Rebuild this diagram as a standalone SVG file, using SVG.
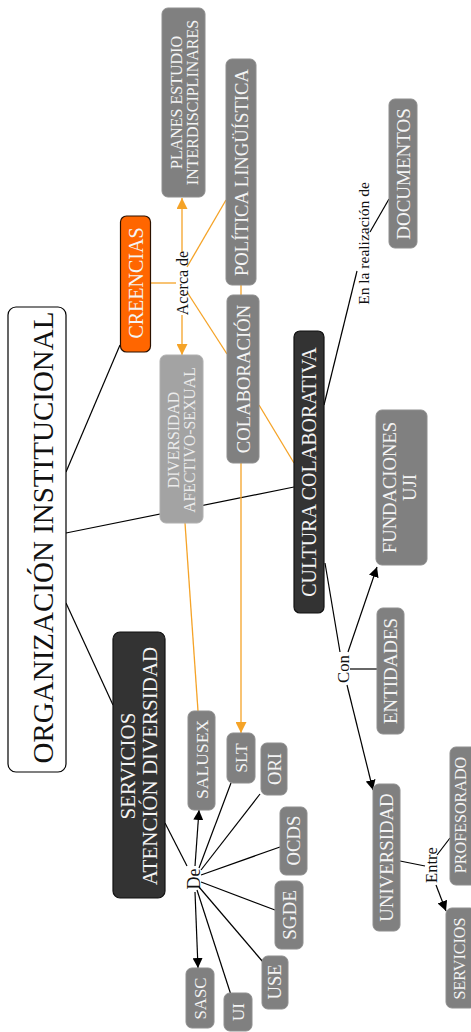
<svg xmlns="http://www.w3.org/2000/svg" width="471" height="1032" viewBox="0 0 471 1032">
<style>
text{font-family:"Liberation Serif","DejaVu Serif",serif;text-anchor:middle;dominant-baseline:central}
.g{fill:#808080;stroke:#8e8e8e;stroke-width:1}
.lg{fill:#a3a3a3;stroke:#b0b0b0;stroke-width:1}
.d{fill:#333333;stroke:#111111;stroke-width:1.2}
.t{fill:#f4f4f4}
.tl{fill:#ececec}
.k{fill:#111111}
.c line{stroke:#000;stroke-width:1.2;fill:none}
.c line.o{stroke:#F5A327;stroke-width:1.3}
</style>
<defs>
<marker id="ab" viewBox="0 0 10 10" refX="10" refY="5" markerWidth="10" markerHeight="10" markerUnits="userSpaceOnUse" orient="auto"><path d="M0,0 L10,5 L0,10 z" fill="#000"/></marker>
<marker id="ao" viewBox="0 0 10 10" refX="10" refY="5" markerWidth="11" markerHeight="11" markerUnits="userSpaceOnUse" orient="auto"><path d="M0,0 L10,5 L0,10 z" fill="#F5A327"/></marker>
</defs>
<rect width="471" height="1032" fill="#fff"/>
<g id="connectors" class="c">
<line x1="66" y1="472" x2="120" y2="345"/>
<line x1="66" y1="533" x2="294" y2="487"/>
<line x1="66" y1="603" x2="113" y2="705"/>
<line x1="165" y1="823" x2="187" y2="866"/>
<line x1="195" y1="866" x2="199" y2="810" marker-end="url(#ab)"/>
<line x1="199" y1="868" x2="231" y2="783"/>
<line x1="201" y1="870" x2="260" y2="794"/>
<line x1="201" y1="875" x2="280" y2="847"/>
<line x1="201" y1="882" x2="275" y2="910"/>
<line x1="199" y1="887" x2="263" y2="962"/>
<line x1="197" y1="890" x2="231" y2="995"/>
<line x1="195" y1="892" x2="198" y2="968" marker-end="url(#ab)"/>
<line x1="324" y1="405" x2="357" y2="271"/>
<line x1="370" y1="232" x2="389" y2="199"/>
<line x1="325" y1="563" x2="340" y2="652"/>
<line x1="348" y1="652" x2="377" y2="567" marker-end="url(#ab)"/>
<line x1="350" y1="669" x2="377" y2="669"/>
<line x1="347" y1="685" x2="373" y2="790" marker-end="url(#ab)"/>
<line x1="400" y1="861" x2="425" y2="866"/>
<line x1="437" y1="855" x2="450" y2="838"/>
<line x1="436" y1="885" x2="446" y2="911" marker-end="url(#ab)"/>
<line class="o" x1="151" y1="283" x2="176" y2="283"/>
<line class="o" x1="182" y1="253" x2="182" y2="198" marker-end="url(#ao)"/>
<line class="o" x1="182" y1="315" x2="182" y2="355" marker-end="url(#ao)"/>
<line class="o" x1="187" y1="267" x2="226" y2="200"/>
<line class="o" x1="187" y1="292" x2="227" y2="354"/>
<line class="o" x1="241" y1="285" x2="241" y2="295"/>
<line class="o" x1="259" y1="405" x2="294" y2="463"/>
<line class="o" x1="241" y1="463" x2="241" y2="733" marker-end="url(#ao)"/>
<line class="o" x1="185" y1="523" x2="198" y2="711"/>
</g>
<g id="organizacion"><rect x="8" y="307" width="58" height="465" rx="8" fill="#fff" stroke="#000" stroke-width="1.2"/><text class="k" transform="translate(42.5,537.5) rotate(-90)" font-size="29">ORGANIZACIÓN INSTITUCIONAL</text></g>
<g id="creencias"><rect x="120.5" y="216" width="30" height="136" rx="6" fill="#FF6600" stroke="#2b1100" stroke-width="1.2"/><text class="t" transform="translate(135.5,283) rotate(-90)" font-size="20">CREENCIAS</text></g>
<g id="planes"><rect class="g" x="162" y="8" width="43" height="189" rx="6"/><text class="t" transform="translate(183.5,102.5) rotate(-90)" font-size="16"><tspan x="0" dy="-8">PLANES ESTUDIO</tspan><tspan x="0" dy="16">INTERDISCIPLINARES</tspan></text></g>
<g id="politica"><rect class="g" x="226" y="59" width="30" height="226" rx="6"/><text class="t" transform="translate(241,172.5) rotate(-90)" font-size="18.7">POLÍTICA LINGÜÍSTICA</text></g>
<g id="documentos"><rect class="g" x="389" y="99" width="28" height="149" rx="6"/><text class="t" transform="translate(403,174) rotate(-90)" font-size="19">DOCUMENTOS</text></g>
<g id="diversidad"><rect class="lg" x="160" y="355" width="43" height="168" rx="6"/><text class="tl" transform="translate(181,440) rotate(-90)" font-size="15.8"><tspan x="0" dy="-8">DIVERSIDAD</tspan><tspan x="0" dy="16">AFECTIVO-SEXUAL</tspan></text></g>
<g id="colaboracion"><rect class="g" x="227" y="295" width="32" height="168" rx="6"/><text class="t" transform="translate(243,379) rotate(-90)" font-size="18.7">COLABORACIÓN</text></g>
<g id="cultura"><rect class="d" x="294" y="331" width="30" height="282" rx="6"/><text class="t" transform="translate(309,472) rotate(-90)" font-size="20">CULTURA COLABORATIVA</text></g>
<g id="fundaciones"><rect class="g" x="376" y="410" width="51" height="155" rx="6"/><text class="t" transform="translate(399,487.5) rotate(-90)" font-size="18.6"><tspan x="0" dy="-10">FUNDACIONES</tspan><tspan x="0" dy="20">UJI</tspan></text></g>
<g id="entidades"><rect class="g" x="377" y="608" width="27" height="126" rx="6"/><text class="t" transform="translate(390.5,671) rotate(-90)" font-size="18.9">ENTIDADES</text></g>
<g id="universidad"><rect class="g" x="373" y="784" width="27" height="147" rx="6"/><text class="t" transform="translate(386.5,857.5) rotate(-90)" font-size="18.8">UNIVERSIDAD</text></g>
<g id="profesorado"><rect class="g" x="450" y="747" width="28" height="138" rx="6"/><text class="t" transform="translate(460,815) rotate(-90)" font-size="16.1">PROFESORADO</text></g>
<g id="servicios2"><rect class="g" x="446" y="908" width="30" height="100" rx="6"/><text class="t" transform="translate(459,958.5) rotate(-90)" font-size="16.1">SERVICIOS</text></g>
<g id="servicios"><rect class="d" x="113" y="632" width="52" height="266" rx="7"/><text class="t" transform="translate(139,766) rotate(-90)" font-size="21"><tspan x="0" dy="-11">SERVICIOS</tspan><tspan x="0" dy="22">ATENCIÓN DIVERSIDAD</tspan></text></g>
<g id="salusex"><rect class="g" x="188" y="711" width="27" height="99" rx="6"/><text class="t" transform="translate(201.5,759.5) rotate(-90)" font-size="17.6">SALUSEX</text></g>
<g id="slt"><rect class="g" x="227" y="733" width="28" height="50" rx="6"/><text class="t" transform="translate(241,758) rotate(-90)" font-size="17.5">SLT</text></g>
<g id="ori"><rect class="g" x="261" y="743" width="26" height="52" rx="6"/><text class="t" transform="translate(274,769) rotate(-90)" font-size="18.6">ORI</text></g>
<g id="ocds"><rect class="g" x="280" y="807" width="27" height="68" rx="6"/><text class="t" transform="translate(293.5,840.5) rotate(-90)" font-size="18.7">OCDS</text></g>
<g id="sgde"><rect class="g" x="275" y="881" width="28" height="68" rx="6"/><text class="t" transform="translate(289,915) rotate(-90)" font-size="19">SGDE</text></g>
<g id="use"><rect class="g" x="262" y="956" width="26" height="53" rx="6"/><text class="t" transform="translate(275,982) rotate(-90)" font-size="18.5">USE</text></g>
<g id="ui"><rect class="g" x="224" y="993" width="28" height="38" rx="6"/><text class="t" transform="translate(238,1012) rotate(-90)" font-size="17">UI</text></g>
<g id="sasc"><rect class="g" x="186" y="968" width="28" height="60" rx="6"/><text class="t" transform="translate(200,998.5) rotate(-90)" font-size="16.8">SASC</text></g>
<g id="lbl-acerca"><text class="k" transform="translate(182.5,283) rotate(-90)" font-size="16">Acerca de</text></g>
<g id="lbl-realizacion"><text class="k" transform="translate(363.5,243.5) rotate(-90)" font-size="15.5">En la realización de</text></g>
<g id="lbl-con"><text class="k" transform="translate(343,669) rotate(-90)" font-size="16.8">Con</text></g>
<g id="lbl-entre"><text class="k" transform="translate(431,865) rotate(-90)" font-size="16.6">Entre</text></g>
<g id="lbl-de"><text class="k" transform="translate(194,879) rotate(-90)" font-size="18">De</text></g>
</svg>
